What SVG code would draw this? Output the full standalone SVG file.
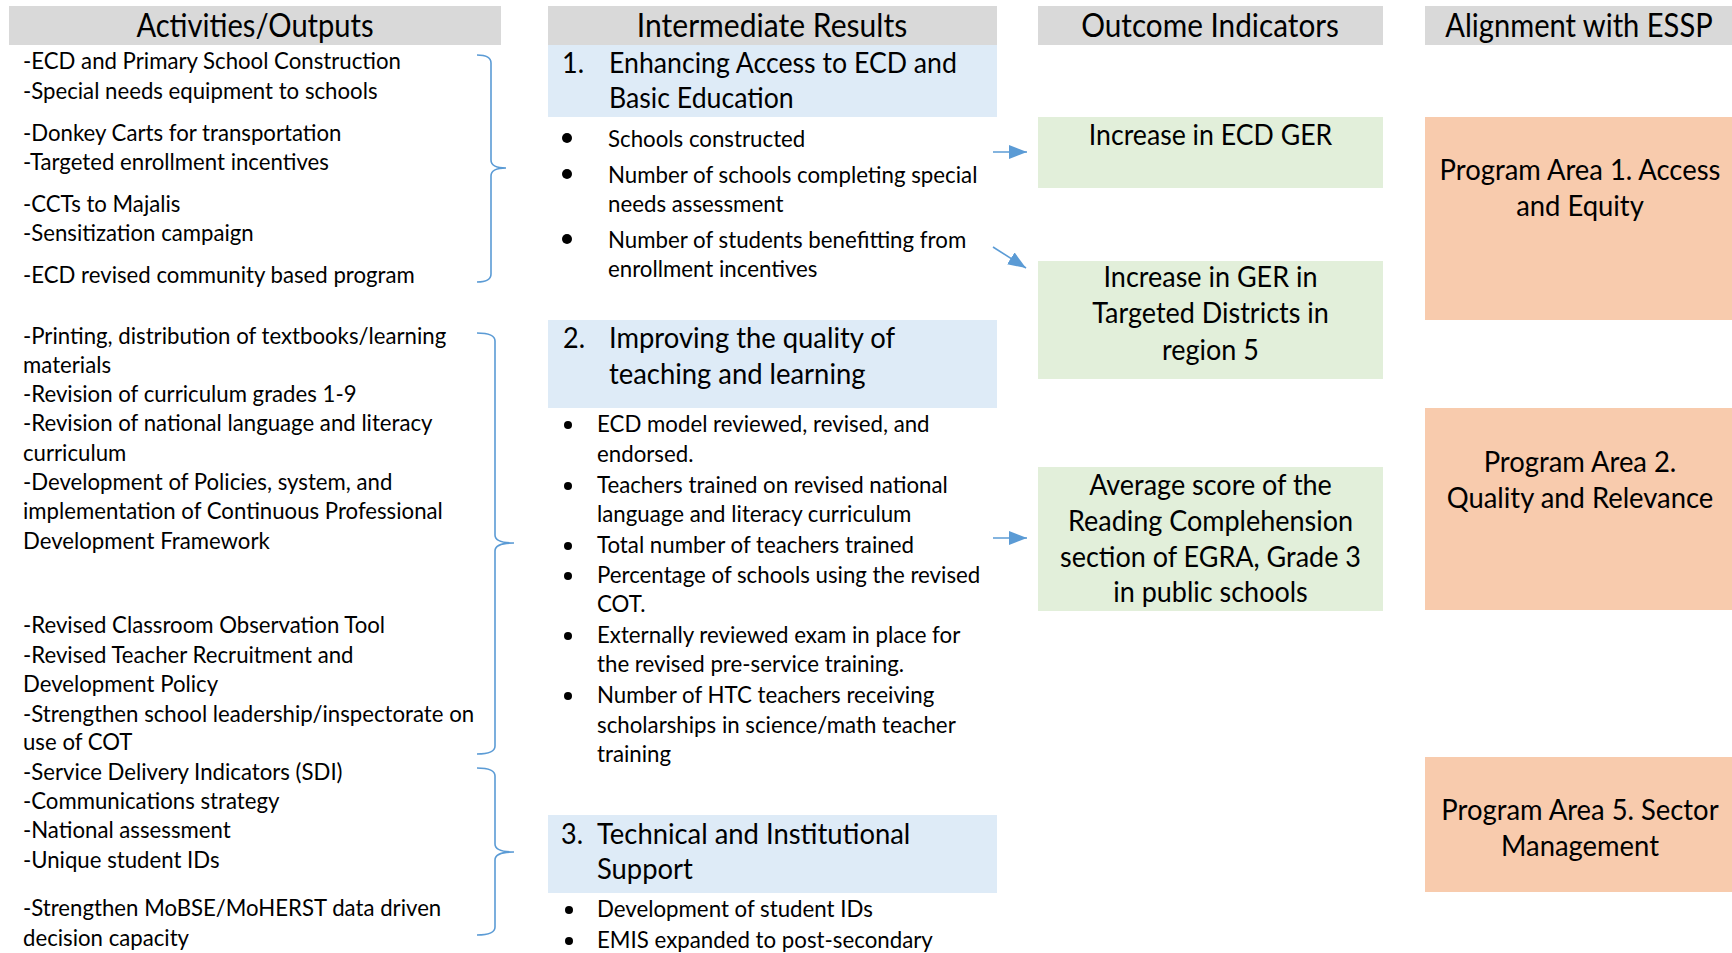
<svg xmlns="http://www.w3.org/2000/svg" width="1732" height="953" viewBox="0 0 1732 953">
<style>
text{font-family:Lato,"Open Sans","Liberation Sans",sans-serif;fill:#000}
.hd{font-size:32px;text-anchor:middle}
.lt{font-size:24px}
.ir{font-size:29px}
.bt{font-size:24px}
.oc{font-size:29px;text-anchor:middle}
.gray{fill:#d9d9d9}
.blue{fill:#deebf7}
.green{fill:#e2efda}
.orange{fill:#f8cbad}
.br{fill:none;stroke:#5b9bd5;stroke-width:1.6}
.ar{stroke:#5b9bd5;stroke-width:1.6;fill:none}
</style>
<defs>
<marker id="ah" markerUnits="userSpaceOnUse" markerWidth="18" markerHeight="14" refX="18" refY="7" orient="auto"><path d="M0,0 L18,7 L0,14 z" fill="#5b9bd5"/></marker>
</defs>
<rect width="1732" height="953" fill="#fff"/>
<g id="headers">
<rect class="gray" x="9" y="6" width="492" height="39"/>
<rect class="gray" x="548" y="6" width="449" height="39"/>
<rect class="gray" x="1038" y="6" width="345" height="39"/>
<rect class="gray" x="1425" y="6" width="307" height="39"/>
<text class="hd" transform="translate(255,37) scale(0.91,1)">Activities/Outputs</text>
<text class="hd" transform="translate(772,37) scale(0.94,1)">Intermediate Results</text>
<text class="hd" transform="translate(1210,37) scale(0.93,1)">Outcome Indicators</text>
<text class="hd" transform="translate(1579,37) scale(0.91,1)">Alignment with ESSP</text>
</g>
<g id="activities1" class="lt" transform="translate(23,0) scale(0.925,1)">
<text x="0" y="69">-ECD and Primary School Construction</text>
<text x="0" y="99">-Special needs equipment to schools</text>
<text x="0" y="141">-Donkey Carts for transportation</text>
<text x="0" y="170">-Targeted enrollment incentives</text>
<text x="0" y="212">-CCTs to Majalis</text>
<text x="0" y="241">-Sensitization campaign</text>
<text x="0" y="283">-ECD revised community based program</text>
</g>
<g id="activities2" class="lt" transform="translate(23,0) scale(0.925,1)">
<text x="0" y="344">-Printing, distribution of textbooks/learning</text>
<text x="0" y="373">materials</text>
<text x="0" y="402">-Revision of curriculum grades 1-9</text>
<text x="0" y="431">-Revision of national language and literacy</text>
<text x="0" y="461">curriculum</text>
<text x="0" y="490">-Development of Policies, system, and</text>
<text x="0" y="519">implementation of Continuous Professional</text>
<text x="0" y="549">Development Framework</text>
<text x="0" y="633">-Revised Classroom Observation Tool</text>
<text x="0" y="663">-Revised Teacher Recruitment and</text>
<text x="0" y="692">Development Policy</text>
<text x="0" y="722">-Strengthen school leadership/inspectorate on</text>
<text x="0" y="750">use of COT</text>
</g>
<g id="activities3" class="lt" transform="translate(23,0) scale(0.925,1)">
<text x="0" y="780">-Service Delivery Indicators (SDI)</text>
<text x="0" y="809">-Communications strategy</text>
<text x="0" y="838">-National assessment</text>
<text x="0" y="868">-Unique student IDs</text>
<text x="0" y="916">-Strengthen MoBSE/MoHERST data driven</text>
<text x="0" y="946">decision capacity</text>
</g>
<g id="ir1">
<rect class="blue" x="548" y="45" width="449" height="72"/>
<text class="ir" transform="translate(562,73) scale(0.93,1)">1.</text>
<text class="ir" transform="translate(609,73) scale(0.92,1)">Enhancing Access to ECD and</text>
<text class="ir" transform="translate(609,108) scale(0.92,1)">Basic Education</text>
<g fill="#000"><circle cx="567" cy="138" r="5"/><circle cx="567" cy="174" r="5"/><circle cx="567" cy="239" r="5"/></g>
<g class="bt" transform="translate(608,0) scale(0.928,1)">
<text x="0" y="147">Schools constructed</text>
<text x="0" y="183">Number of schools completing special</text>
<text x="0" y="212">needs assessment</text>
<text x="0" y="248">Number of students benefitting from</text>
<text x="0" y="277">enrollment incentives</text>
</g>
</g>
<g id="ir2">
<rect class="blue" x="548" y="320" width="449" height="88"/>
<text class="ir" transform="translate(563,348) scale(0.93,1)">2.</text>
<text class="ir" transform="translate(609,348) scale(0.945,1)">Improving the quality of</text>
<text class="ir" transform="translate(609,384) scale(0.945,1)">teaching and learning</text>
<g fill="#000"><circle cx="568" cy="425" r="4"/><circle cx="568" cy="486" r="4"/><circle cx="568" cy="546" r="4"/><circle cx="568" cy="576" r="4"/><circle cx="568" cy="636" r="4"/><circle cx="568" cy="696" r="4"/></g>
<g class="bt" transform="translate(597,0) scale(0.928,1)">
<text x="0" y="432">ECD model reviewed, revised, and</text>
<text x="0" y="462">endorsed.</text>
<text x="0" y="493">Teachers trained on revised national</text>
<text x="0" y="522">language and literacy curriculum</text>
<text x="0" y="553">Total number of teachers trained</text>
<text x="0" y="583">Percentage of schools using the revised</text>
<text x="0" y="612">COT.</text>
<text x="0" y="643">Externally reviewed exam in place for</text>
<text x="0" y="672">the revised pre-service training.</text>
<text x="0" y="703">Number of HTC teachers receiving</text>
<text x="0" y="733">scholarships in science/math teacher</text>
<text x="0" y="762">training</text>
</g>
</g>
<g id="ir3">
<rect class="blue" x="548" y="815" width="449" height="78"/>
<text class="ir" transform="translate(561,844) scale(0.93,1)">3.</text>
<text class="ir" transform="translate(597,844) scale(0.945,1)">Technical and Institutional</text>
<text class="ir" transform="translate(597,879) scale(0.945,1)">Support</text>
<g fill="#000"><circle cx="569" cy="910" r="4"/><circle cx="569" cy="941" r="4"/></g>
<g class="bt" transform="translate(597,0) scale(0.928,1)">
<text x="0" y="917">Development of student IDs</text>
<text x="0" y="948">EMIS expanded to post-secondary</text>
</g>
</g>
<g id="oi1">
<rect class="green" x="1038" y="117" width="345" height="71"/>
<g class="oc" transform="translate(1210.5,0) scale(0.92,1)">
<text x="0" y="145">Increase in ECD GER</text>
</g>
</g>
<g id="oi2">
<rect class="green" x="1038" y="261" width="345" height="118"/>
<g class="oc" transform="translate(1210.5,0) scale(0.93,1)">
<text x="0" y="287">Increase in GER in</text>
<text x="0" y="323">Targeted Districts in</text>
<text x="0" y="360">region 5</text>
</g>
</g>
<g id="oi3">
<rect class="green" x="1038" y="467" width="345" height="144"/>
<g class="oc" transform="translate(1210.5,0) scale(0.93,1)">
<text x="0" y="495">Average score of the</text>
<text x="0" y="531">Reading Complehension</text>
<text x="0" y="567">section of EGRA, Grade 3</text>
<text x="0" y="602">in public schools</text>
</g>
</g>
<g id="pa1">
<rect class="orange" x="1425" y="117" width="307" height="203"/>
<g class="oc" transform="translate(1580,0) scale(0.945,1)">
<text x="0" y="180">Program Area 1. Access</text>
<text x="0" y="216">and Equity</text>
</g>
</g>
<g id="pa2">
<rect class="orange" x="1425" y="408" width="307" height="202"/>
<g class="oc" transform="translate(1580,0) scale(0.945,1)">
<text x="0" y="472">Program Area 2.</text>
<text x="0" y="508">Quality and Relevance</text>
</g>
</g>
<g id="pa5">
<rect class="orange" x="1425" y="757" width="307" height="135"/>
<g class="oc" transform="translate(1580,0) scale(0.945,1)">
<text x="0" y="820">Program Area 5. Sector</text>
<text x="0" y="856">Management</text>
</g>
</g>
<g id="connectors">
<path class="br" d="M477,55 Q491,55 491,63 L491,160 Q491,168 506,168 Q491,168 491,176 L491,274 Q491,282 477,282"/>
<path class="br" d="M477,333 Q495,333 495,341 L495,535 Q495,543 514,543 Q495,543 495,551 L495,746 Q495,754 477,754"/>
<path class="br" d="M477,768 Q495,768 495,776 L495,844 Q495,852 514,852 Q495,852 495,860 L495,927 Q495,935 477,935"/>
<line class="ar" x1="993" y1="152" x2="1027" y2="152" marker-end="url(#ah)"/>
<line class="ar" x1="993" y1="247" x2="1026" y2="268" marker-end="url(#ah)"/>
<line class="ar" x1="993" y1="538" x2="1027" y2="538" marker-end="url(#ah)"/>
</g>
</svg>
